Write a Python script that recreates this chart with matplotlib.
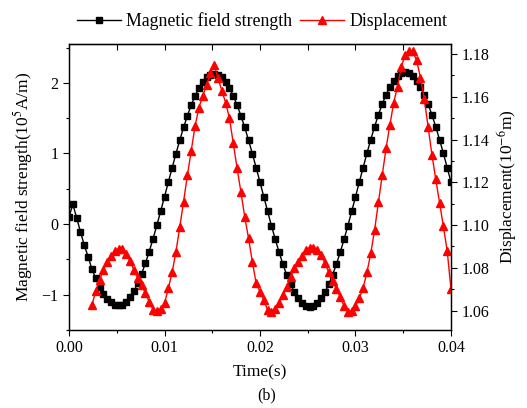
import numpy as np
import matplotlib
matplotlib.use("Agg")
import matplotlib.pyplot as plt
from matplotlib.ticker import MultipleLocator, NullFormatter

plt.rcParams['font.family'] = ['Liberation Serif', 'DejaVu Serif']
plt.rcParams['mathtext.fontset'] = 'stix'

# ---- data ----
dt = 0.0004
field_strength = [
    0.10, 0.28, 0.09, -0.11, -0.30, -0.46, -0.64, -0.77, -0.89, -0.99,
    -1.06, -1.11, -1.14, -1.15, -1.14, -1.10, -1.035, -0.947, -0.837, -0.706,
    -0.555, -0.389, -0.208, -0.017, 0.183, 0.387, 0.593, 0.797, 0.997, 1.188,
    1.369, 1.535, 1.686, 1.817, 1.927, 2.015, 2.078, 2.117, 2.13, 2.117,
    2.078, 2.015, 1.927, 1.817, 1.686, 1.535, 1.369, 1.188, 0.997, 0.797,
    0.593, 0.386, 0.179, -0.023, -0.217, -0.399, -0.568, -0.720, -0.853, -0.965,
    -1.053, -1.118, -1.157, -1.17, -1.157, -1.118, -1.053, -0.965, -0.853, -0.720,
    -0.568, -0.399, -0.217, -0.023, 0.179, 0.386, 0.594, 0.801, 1.003, 1.197,
    1.379, 1.548, 1.700, 1.833, 1.945, 2.033, 2.098, 2.137, 2.15, 2.137,
    2.098, 2.033, 1.945, 1.833, 1.700, 1.548, 1.379, 1.197, 1.003, 0.801,
    0.594,
]
time_field = [round(dt * i, 4) for i in range(len(field_strength))]

displacement = [
    1.0626, 1.0691, 1.0743, 1.0790, 1.0826, 1.0855, 1.0878, 1.0890, 1.0886, 1.0866,
    1.0830, 1.0790, 1.0751, 1.0719, 1.0680, 1.0641, 1.0603, 1.0596, 1.0608, 1.0634,
    1.0704, 1.0779, 1.0875, 1.0992, 1.1110, 1.1234, 1.1348, 1.1463, 1.1549, 1.1604,
    1.1655, 1.1710, 1.1749, 1.1687, 1.1629, 1.1573, 1.1500, 1.1383, 1.1266, 1.1155,
    1.1039, 1.0938, 1.0828, 1.0727, 1.0688, 1.0649, 1.0602, 1.0594, 1.0607, 1.0634,
    1.0673, 1.0711, 1.0758, 1.0798, 1.0828, 1.0856, 1.0883, 1.0894, 1.0893, 1.0883,
    1.0860, 1.0821, 1.0779, 1.0738, 1.0701, 1.0662, 1.0622, 1.0594, 1.0598, 1.0622,
    1.0657, 1.0707, 1.0779, 1.0868, 1.0977, 1.1106, 1.1234, 1.1359, 1.1468, 1.1573,
    1.1648, 1.1741, 1.1796, 1.1815, 1.1812, 1.1770, 1.1690, 1.1590, 1.1460, 1.1330,
    1.1215, 1.1105, 1.0995, 1.0880, 1.0700,
]
disp_start = 6
time_disp = [round(dt * (disp_start + i), 4) for i in range(len(displacement))]

x_ticks = [0.00, 0.01, 0.02, 0.03, 0.04]
x_tick_labels = ["0.00", "0.01", "0.02", "0.03", "0.04"]
left_ticks = [-1, 0, 1, 2]
right_ticks = [1.06, 1.08, 1.10, 1.12, 1.14, 1.16, 1.18]

# ---- figure ----
fig = plt.figure(figsize=(5.27, 4.08), dpi=100)
ax = fig.add_axes([69/527, 1-330/408, (451-69)/527, (330-44)/408])
ax2 = ax.twinx()

l1, = ax.plot(time_field, field_strength, color='black', lw=1.0,
              marker='s', ms=4.8, mec='black', mfc='black',
              label='Magnetic field strength')
l2, = ax2.plot(time_disp, displacement, color='red', lw=1.0,
               marker='^', ms=5.8, mec='red', mfc='red',
               label='Displacement')

ax.set_xlim(0.0, 0.04)
ax.set_ylim(-1.5, 2.55)
ax2.set_ylim(1.0509, 1.1847)

ax.set_xticks(x_ticks)
ax.set_xticklabels(x_tick_labels)
ax.xaxis.set_minor_locator(MultipleLocator(0.005))
ax.set_yticks(left_ticks)
ax.yaxis.set_minor_locator(MultipleLocator(0.5))
ax2.set_yticks(right_ticks)
ax2.set_yticklabels([f"{v:.2f}" for v in right_ticks])
ax2.yaxis.set_minor_locator(MultipleLocator(0.01))

ax.tick_params(axis='both', which='major', direction='out', length=4, width=0.8,
               labelsize=11.5)
ax.tick_params(axis='both', which='minor', direction='out', length=2.5, width=0.8)
ax2.tick_params(axis='y', which='major', direction='out', length=4, width=0.8, labelsize=11.5)
ax2.tick_params(axis='y', which='minor', direction='out', length=2.5, width=0.8)

# top axis: inward ticks, no labels
top = ax.secondary_xaxis('top')
top.set_xticks(x_ticks)
top.xaxis.set_minor_locator(MultipleLocator(0.005))
top.xaxis.set_major_formatter(NullFormatter())
top.tick_params(which='major', direction='in', length=4, width=0.8)
top.tick_params(which='minor', direction='in', length=4, width=0.8)

for a in (ax, ax2):
    for s in a.spines.values():
        s.set_linewidth(0.9)

ax.set_xlabel('Time(s)', fontsize=12.5, labelpad=6)
ax.set_ylabel('Magnetic field strength(10$^{5}$A/m)', fontsize=12.5, labelpad=5)
ax2.set_ylabel('Displacement(10$^{-6}$m)', fontsize=12.5, labelpad=4)

fig.legend(handles=[l1, l2], loc='upper center', bbox_to_anchor=(0.497, 1.01),
           ncol=2, frameon=False, fontsize=12.8, handlelength=2.5,
           handletextpad=0.3, columnspacing=0.4, numpoints=1)

fig.text(0.505, 0.03, '(b)', ha='center', va='center', fontsize=11.5)

fig.savefig('out.png', dpi=100)
